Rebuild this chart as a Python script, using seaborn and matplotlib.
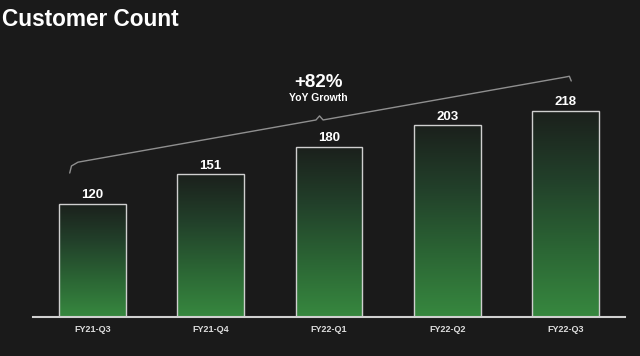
import matplotlib
matplotlib.use("Agg")
import matplotlib.pyplot as plt
from matplotlib.colors import LinearSegmentedColormap
import numpy as np
import pandas as pd
import seaborn as sns

quarters = ["FY21-Q3", "FY21-Q4", "FY22-Q1", "FY22-Q2", "FY22-Q3"]
customers = [120, 151, 180, 203, 218]
growth_label = "+82%"
growth_sub = "YoY Growth"
title = "Customer Count"

bg = "#1a1a1a"
sns.set_theme(style="dark")
plt.rcParams["font.family"] = ["Liberation Sans", "DejaVu Sans"]

df = pd.DataFrame({"quarter": quarters, "count": customers})

fig = plt.figure(figsize=(6.4, 3.56), dpi=100, facecolor=bg)
ax = fig.add_axes([33 / 640, 39 / 356, 592 / 640, 287 / 356])
ax.set_facecolor(bg)

sns.barplot(data=df, x="quarter", y="count", ax=ax, width=0.565,
            color="#2a5a33", edgecolor="#cfcfcf", linewidth=1.0)

# vertical green gradient inside every bar
cmap = LinearSegmentedColormap.from_list(
    "grn", ["#37883f", "#2b6534", "#22402a", "#1b201c"])
grad = np.linspace(0, 1, 256).reshape(-1, 1)
for p in ax.patches:
    x0, y0 = p.get_x(), p.get_y()
    w, h = p.get_width(), p.get_height()
    im = ax.imshow(grad, cmap=cmap, origin="lower", aspect="auto",
                   extent=(x0, x0 + w, y0, y0 + h), zorder=p.get_zorder() - 0.1)
    im.set_clip_path(p)
    p.set_facecolor("none")
    ax.text(x0 + w / 2, y0 + h + 3, f"{int(h)}", ha="center", va="bottom",
            color="white", fontsize=9.5, fontweight="bold")

ax.set_xlim(-0.5, 4.5)
ax.set_ylim(0, 304)

# brace over the bars
bx = [-0.19, -0.175, -0.12, 1.89, 1.92, 1.95, 3.99, 4.03, 4.046]
by = [152.5, 160, 164, 208.7, 213, 208.7, 254, 255, 250]
ax.plot(bx, by, color="#8f8f8f", lw=1.0, solid_capstyle="round")
ax.text(1.91, 248, growth_label, ha="center", va="center", color="white",
        fontsize=13.5, fontweight="bold")
ax.text(1.91, 232, growth_sub, ha="center", va="center", color="white",
        fontsize=7.5, fontweight="bold")

ax.set_xlabel("")
ax.set_ylabel("")
ax.set_yticks([])
ax.tick_params(axis="x", length=0, pad=6, colors="#dddddd", labelsize=6.5)
for lbl in ax.get_xticklabels():
    lbl.set_fontweight("bold")
for s in ["top", "right", "left"]:
    ax.spines[s].set_visible(False)
ax.spines["bottom"].set_color("#d0d0d0")
ax.spines["bottom"].set_linewidth(1.5)
ax.grid(False)

fig.text(2 / 640, 1 - 19 / 356, title, ha="left", va="center", color="white",
         fontsize=16.3, fontweight="bold")

fig.savefig("out.png", dpi=100, facecolor=bg)
